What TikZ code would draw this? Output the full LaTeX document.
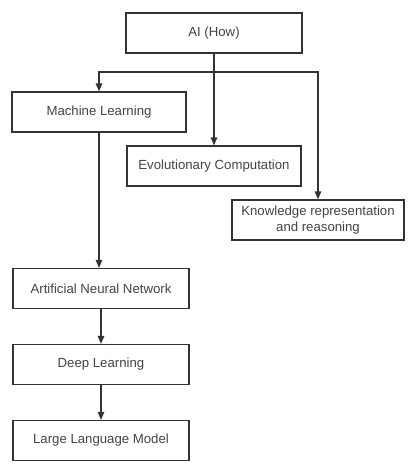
\documentclass[tikz,border=0pt]{standalone}
\usepackage{fontspec}
\setmainfont{Liberation Sans}
\usetikzlibrary{arrows.meta}
\definecolor{boxline}{HTML}{333333}
\definecolor{boxtext}{HTML}{444444}
\tikzset{
  box/.style={draw=boxline, line width=1.3pt, rectangle, fill=white, text=boxtext,
    align=center, inner sep=0pt, font=\fontsize{13.2}{15.5}\selectfont},
  conn/.style={draw=boxline, line width=1.3pt, -{Triangle[length=8pt,width=6.5pt]}}
}
\begin{document}
\begin{tikzpicture}[x=1pt,y=-1pt]
\useasboundingbox[fill=white] (0,0) rectangle (412,467);
\node[box, minimum width=176pt, minimum height=40pt] (ai) at (214,33) {AI (How)};
\node[box, minimum width=174pt, minimum height=40pt] (ml) at (99,112) {Machine Learning};
\node[box, minimum width=174pt, minimum height=40pt] (ec) at (214,166) {Evolutionary Computation};
\node[box, minimum width=172pt, minimum height=40pt] (kr) at (318,220) {Knowledge representation\\and reasoning};
\node[box, minimum width=176pt, minimum height=40pt] (ann) at (101,288.5) {Artificial Neural Network};
\node[box, minimum width=176pt, minimum height=40pt] (dl) at (101,364.5) {Deep Learning};
\node[box, minimum width=176pt, minimum height=40pt] (llm) at (101,440.5) {Large Language Model};
\coordinate (j) at (214,72);
\draw[conn] (ai.south) -- (ec.north);
\draw[conn] (j) -| (ml.north);
\draw[conn] (j) -| (kr.north);
\draw[conn] (ml.south) -- (ml.south |- ann.north);
\draw[conn] (ann.south) -- (dl.north);
\draw[conn] (dl.south) -- (llm.north);
\end{tikzpicture}
\end{document}
